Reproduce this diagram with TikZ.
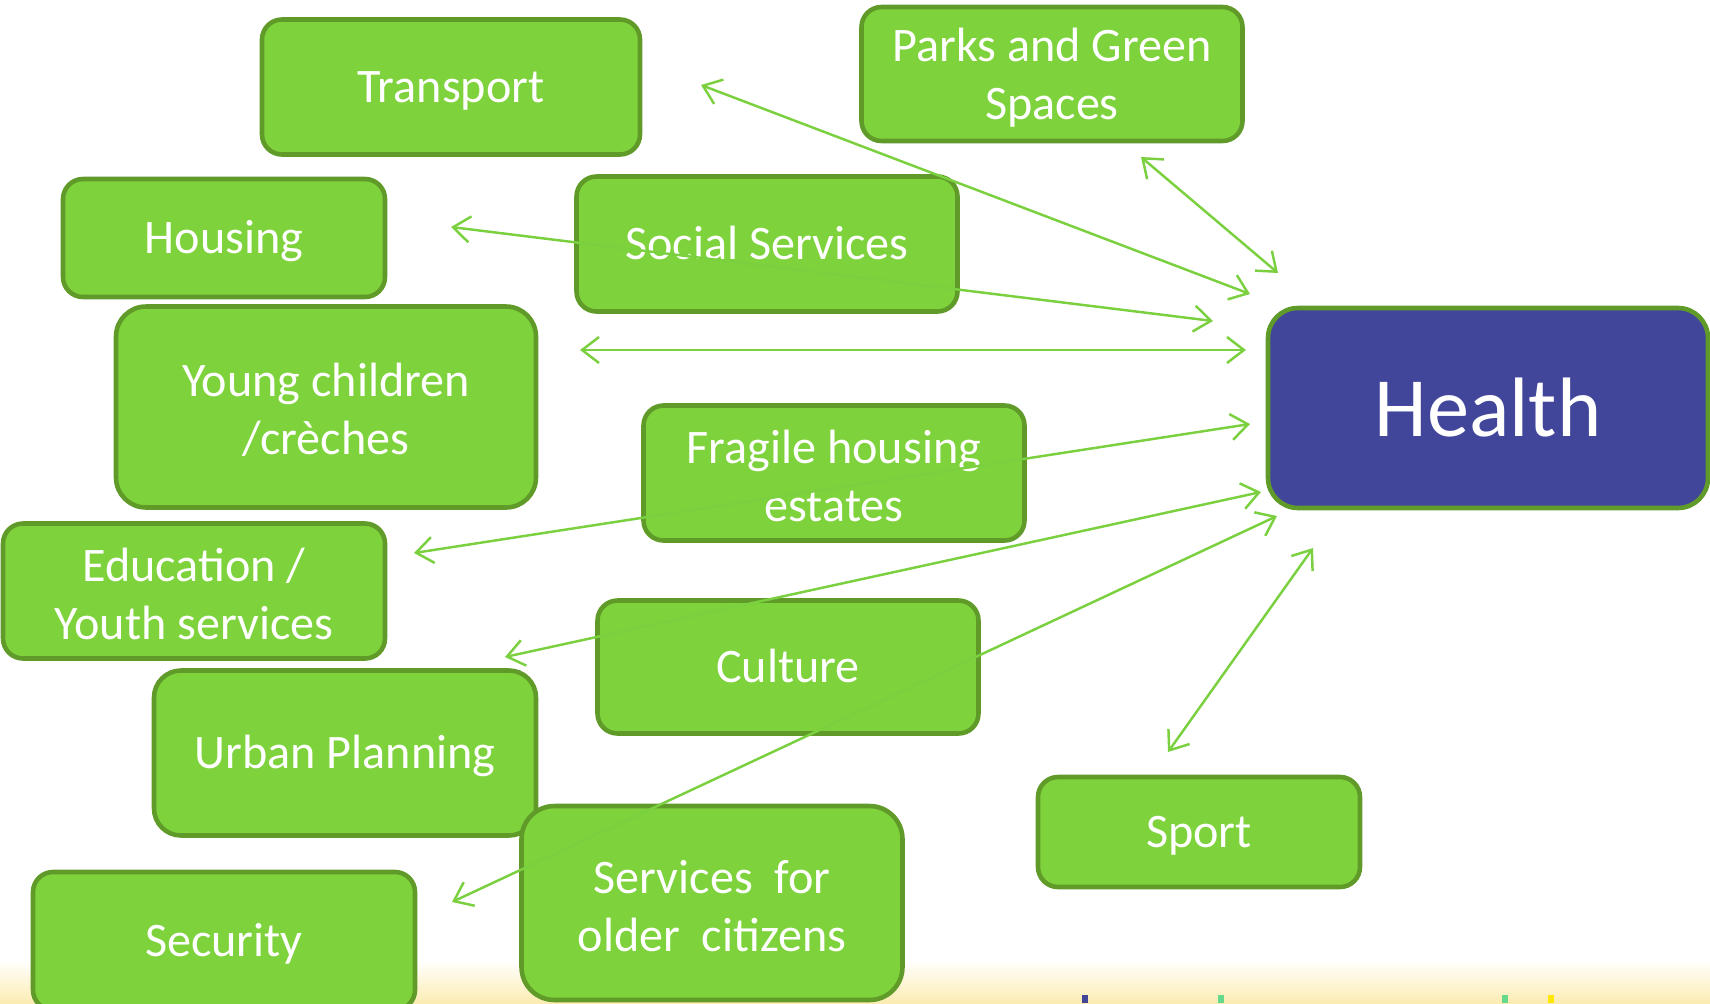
\documentclass[tikz,border=0pt]{standalone}
\usepackage{fontspec}
\setmainfont{Carlito}
\usepackage{tikz}
\usetikzlibrary{arrows.meta,positioning}

\definecolor{boxgreen}{RGB}{126,210,60}
\definecolor{rimgreen}{RGB}{96,155,42}
\definecolor{healthblue}{RGB}{65,70,155}
\definecolor{linkgreen}{RGB}{122,208,62}
\definecolor{stripyellow}{RGB}{252,236,178}
\newcommand{\boxstrut}{\rule{0pt}{0.40cm}}

\begin{document}
\begin{tikzpicture}[x=0.1mm,y=-0.1mm,
  topic/.style={draw=rimgreen,fill=boxgreen,line width=1.3pt,rounded corners=0.2cm,
    text=white,align=center,inner sep=0pt,font=\fontsize{13.7}{16.5}\selectfont},
  oneline/.style={text height=0.42cm,text depth=0.12cm},
  link/.style={draw=linkgreen,line width=0.7pt,
    {Straight Barb[length=0.17cm,width=0.26cm]}-{Straight Barb[length=0.17cm,width=0.26cm]}}]
\useasboundingbox (0,0) rectangle (1710,1003);
\clip (0,0) rectangle (1710,1003);
% bottom strip
\shade[top color=white,bottom color=stripyellow] (0,960) rectangle (1710,1003);
\fill[healthblue] (1082,995) rectangle (1088,1003);
\fill[green!50!teal!60] (1218,995) rectangle (1224,1003);
\fill[green!50!teal!60] (1502,995) rectangle (1508,1003);
\fill[yellow!90!orange] (1548,995) rectangle (1554,1003);

% boxes
\node[topic,oneline,minimum width=3.78cm,minimum height=1.35cm] (transport) at (451,87) {Transport};
\node[topic,minimum width=3.81cm,minimum height=1.34cm] (parks) at (1052,74) {\boxstrut Parks and Green\\Spaces};
\node[topic,oneline,minimum width=3.22cm,minimum height=1.18cm] (housing) at (224,238) {Housing};
\node[topic,oneline,minimum width=3.81cm,minimum height=1.35cm] (social) at (767,244) {Social Services};
\node[topic,minimum width=4.20cm,minimum height=2.01cm,rounded corners=0.3cm] (young) at (326,407) {\boxstrut Young children\\/crèches};
\node[topic,minimum width=4.40cm,minimum height=2.00cm,rounded corners=0.3cm,fill=healthblue,
  font=\fontsize{24}{28}\selectfont] (health) at (1488,408) {Health};
\node[topic,minimum width=3.81cm,minimum height=1.35cm] (fragile) at (834,473) {\boxstrut Fragile housing\\estates};
\node[topic,minimum width=3.82cm,minimum height=1.35cm] (education) at (194,591) {\boxstrut Education /\\Youth services};
\node[topic,oneline,minimum width=3.81cm,minimum height=1.33cm] (culture) at (788,667) {Culture};
\node[topic,oneline,minimum width=3.82cm,minimum height=1.65cm,rounded corners=0.27cm] (urban) at (345,753) {Urban Planning};
\node[topic,oneline,minimum width=3.22cm,minimum height=1.10cm] (sport) at (1199,832) {Sport};
\node[topic,minimum width=3.81cm,minimum height=1.94cm,rounded corners=0.33cm] (older) at (712,903) {\boxstrut Services\ \ for\\older\ \ citizens};
\node[topic,oneline,minimum width=3.82cm,minimum height=1.38cm] (security) at (224,941) {Security};

% arrow ends
\coordinate (transport-end) at (701,85);
\coordinate (health-transport) at (1250,294);
\coordinate (parks-end) at (1141,157);
\coordinate (health-parks) at (1278,273);
\coordinate (housing-end) at (451,227);
\coordinate (health-housing) at (1213,321);
\coordinate (young-end) at (580,350);
\coordinate (health-young) at (1246,350);
\coordinate (education-end) at (414,553);
\coordinate (health-education) at (1250,424);
\coordinate (urban-end) at (505,657);
\coordinate (health-urban) at (1261,492);
\coordinate (security-end) at (452,902);
\coordinate (health-security) at (1277,516);
\coordinate (sport-end) at (1168,752);
\coordinate (health-sport) at (1313,548);

% links
\draw[link] (transport-end) -- (health-transport);
\draw[link] (parks-end) -- (health-parks);
\draw[link] (housing-end) -- (health-housing);
\draw[link] (young-end) -- (health-young);
\draw[link] (education-end) -- (health-education);
\draw[link] (urban-end) -- (health-urban);
\draw[link] (security-end) -- (health-security);
\draw[link] (sport-end) -- (health-sport);
\end{tikzpicture}
\end{document}
